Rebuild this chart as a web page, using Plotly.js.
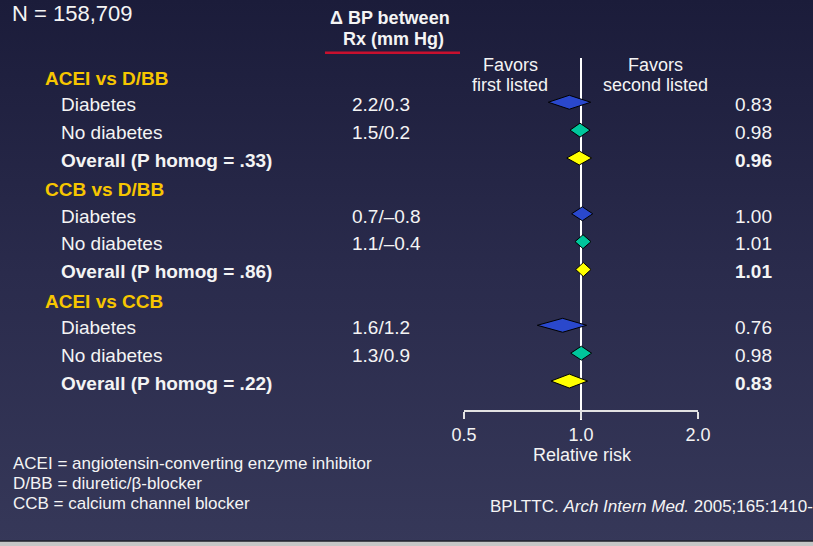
<!DOCTYPE html>
<html>
<head>
<meta charset="utf-8">
<script src="https://cdn.plot.ly/plotly-3.0.1.min.js"></script>
<style>
  html, body { margin: 0; padding: 0; width: 813px; height: 546px; overflow: hidden; }
  body { background: linear-gradient(to bottom, #1b1c3a 0%, #2a2b4c 50%, #363859 100%); }
  #chart { width: 813px; height: 546px; }
</style>
</head>
<body>
<div id="chart"></div>
<script>
// ---------------- data ----------------
const sampleSize = 'N = 158,709';
const groups = ['ACEI vs D/BB', 'CCB vs D/BB', 'ACEI vs CCB'];
const rowLabels = [
  'Diabetes', 'No diabetes', 'Overall (P homog = .33)',
  'Diabetes', 'No diabetes', 'Overall (P homog = .86)',
  'Diabetes', 'No diabetes', 'Overall (P homog = .22)'
];
const rowKind = ['diab', 'nodiab', 'overall', 'diab', 'nodiab', 'overall', 'diab', 'nodiab', 'overall'];
const deltaBP = ['2.2/0.3', '1.5/0.2', '', '0.7/\u20130.8', '1.1/\u20130.4', '', '1.6/1.2', '1.3/0.9', ''];
const rrText = ['0.83', '0.98', '0.96', '1.00', '1.01', '1.01', '0.76', '0.98', '0.83'];
// diamond positions as drawn on the relative-risk axis
const rrCenter = [0.933, 0.994, 0.990, 1.008, 1.012, 1.014, 0.897, 1.002, 0.933];
const ciLow    = [0.824, 0.937, 0.919, 0.946, 0.965, 0.969, 0.772, 0.941, 0.837];
const ciHigh   = [1.059, 1.055, 1.065, 1.072, 1.061, 1.061, 1.034, 1.065, 1.040];
const tickVals = [0.5, 1, 2];
const tickText = ['0.5', '1.0', '2.0'];
const footnotes = [
  'ACEI = angiotensin-converting enzyme inhibitor',
  'D/BB = diuretic/\u03b2-blocker',
  'CCB = calcium channel blocker'
];
const citation = 'BPLTTC. <i>Arch Intern Med.</i> 2005;165:1410-';

// ---------------- layout helpers ----------------
const W = 813, H = 546;
const FONT = 'Liberation Sans, Arial, Helvetica, sans-serif';
const WHITE = '#f4f4f4';
const GOLD = '#f7c600';
const PAD = 3;                           // annotation inner padding compensation
const px = v => v / W;                   // x pixel -> paper
const pxl = v => (v - PAD) / W;          // left-anchored text start
const py = v => 1 - v / H;               // y pixel -> paper
// row index: group g header at 4g, its rows at 4g+1..4g+3
const rowIndex = i => Math.floor(i / 3) * 4 + (i % 3) + 1;
const halfH = 0.25;   // half-height of diamonds in row units
const dShift = -0.08;
const headerShift = 0.06;

const kindColor = { diab: '#2a48cc', nodiab: '#00c69c', overall: '#ffff00' };
const traces = ['diab', 'nodiab', 'overall'].map(kind => {
  const xs = [], ys = [];
  rowKind.forEach((k, i) => {
    if (k !== kind) return;
    const r = rowIndex(i) + dShift;
    xs.push(ciLow[i], rrCenter[i], ciHigh[i], rrCenter[i], ciLow[i], null);
    ys.push(r, r - halfH, r, r + halfH, r, null);
  });
  return {
    type: 'scatter', mode: 'lines', x: xs, y: ys,
    fill: 'toself', fillcolor: kindColor[kind],
    line: { color: '#000000', width: 1 },
    hoverinfo: 'skip', showlegend: false
  };
});

const annotations = [];
const addText = (text, x, y, opts) => annotations.push(Object.assign({
  text, x, y, xref: 'paper', yref: 'paper', showarrow: false,
  xanchor: 'left', yanchor: 'middle',
  font: { family: FONT, size: 19, color: WHITE }
}, opts || {}));

addText(sampleSize, pxl(14), 1, { yanchor: 'top', borderpad: 0, font: { family: FONT, size: 22, color: WHITE } });
addText('<b>\u0394 BP between</b>', px(390), py(18.3), { xanchor: 'center', borderpad: 0, font: { family: FONT, size: 18, color: WHITE } });
addText('<b>Rx (mm Hg)</b>', px(393), py(39), { xanchor: 'center', borderpad: 0, font: { family: FONT, size: 18, color: WHITE } });
addText('Favors', px(510), py(64.5), { xanchor: 'center', borderpad: 0, font: { family: FONT, size: 18, color: WHITE } });
addText('first listed', px(510), py(85.3), { xanchor: 'center', borderpad: 0, font: { family: FONT, size: 18, color: WHITE } });
addText('Favors', px(655), py(64.5), { xanchor: 'center', borderpad: 0, font: { family: FONT, size: 18, color: WHITE } });
addText('second listed', px(655), py(85.3), { xanchor: 'center', borderpad: 0, font: { family: FONT, size: 18, color: WHITE } });

groups.forEach((g, gi) => {
  addText('<b>' + g + '</b>', pxl(46), gi * 4 + headerShift, { yref: 'y', font: { family: FONT, size: 19, color: GOLD } });
});
rowLabels.forEach((lab, i) => {
  const r = rowIndex(i);
  const bold = rowKind[i] === 'overall';
  addText(bold ? '<b>' + lab + '</b>' : lab, pxl(62), r, { yref: 'y' });
  if (deltaBP[i]) addText(deltaBP[i], pxl(353), r, { yref: 'y' });
  addText(bold ? '<b>' + rrText[i] + '</b>' : rrText[i], pxl(736), r, { yref: 'y' });
});

addText('Relative risk', px(582), py(455.3), { xanchor: 'center', font: { family: FONT, size: 18, color: WHITE } });
footnotes.forEach((f, i) => {
  addText(f, pxl(14.5), py(463.3 + 20 * i), { borderpad: 0, font: { family: FONT, size: 17, color: WHITE } });
});
addText(citation, pxl(491), py(506), { font: { family: FONT, size: 17, color: WHITE } });

const layout = {
  width: W, height: H,
  margin: { l: 0, r: 0, t: 0, b: 0, pad: 0 },
  paper_bgcolor: 'rgba(0,0,0,0)',
  plot_bgcolor: 'rgba(0,0,0,0)',
  showlegend: false,
  font: { family: FONT, color: WHITE },
  xaxis: {
    type: 'log',
    domain: [464 / W, 698 / W],
    range: [Math.log10(0.5), Math.log10(2)],
    anchor: 'y',
    showline: true, linecolor: '#e2e2e2', linewidth: 2,
    ticks: 'outside', ticklen: 7, tickwidth: 2, tickcolor: '#e2e2e2',
    tickvals: tickVals, ticktext: tickText,
    tickfont: { family: FONT, size: 18, color: WHITE },
    showgrid: false, zeroline: false, fixedrange: true
  },
  yaxis: {
    domain: [1 - 410 / H, 1],
    range: [(410 - 76.6) / 27.88, -76.6 / 27.88],
    visible: false, showgrid: false, zeroline: false, fixedrange: true
  },
  shapes: [
    { type: 'line', xref: 'x', yref: 'paper', x0: 1, x1: 1, y0: py(58), y1: py(420),
      line: { color: '#ffffff', width: 2 }, layer: 'below' },
    { type: 'line', xref: 'paper', yref: 'paper', x0: px(325), x1: px(460), y0: py(52.7), y1: py(52.7),
      line: { color: '#c8102e', width: 2.5 } },
    { type: 'rect', xref: 'paper', yref: 'paper', x0: 0, x1: 1, y0: 0, y1: 4.5 / H,
      fillcolor: '#c6c6c6', line: { width: 0 } },
    { type: 'line', xref: 'paper', yref: 'paper', x0: 0, x1: 1, y0: 5 / H, y1: 5 / H,
      line: { color: '#151515', width: 1 } }
  ],
  annotations
};

Plotly.newPlot('chart', traces, layout, { displayModeBar: false, staticPlot: true });
</script>
</body>
</html>
